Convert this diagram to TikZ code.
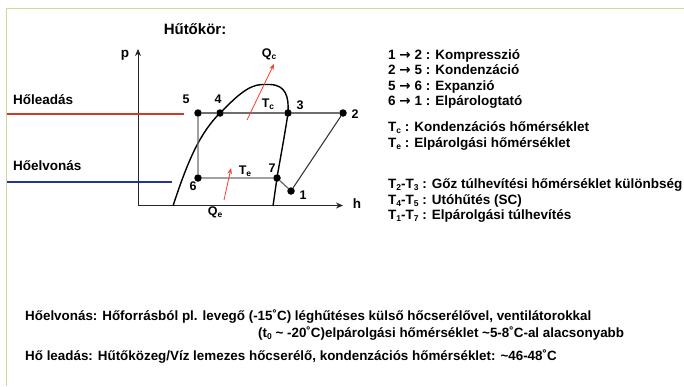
\documentclass[tikz,border=0pt]{standalone}
\usepackage{fontspec}
\setmainfont{Liberation Sans}
\newfontfamily\arrowfont{DejaVu Sans}
\usetikzlibrary{arrows.meta}
\definecolor{framegreen}{RGB}{200,222,150}
\definecolor{hotred}{RGB}{200,60,40}
\definecolor{coldblue}{RGB}{40,50,150}
\definecolor{qred}{RGB}{255,60,40}
\definecolor{cyclegray}{RGB}{110,110,110}
\newcommand{\rarr}{{\arrowfont\char"2192}}
\newcommand{\lowsub}[1]{\raisebox{-0.3ex}{\fontsize{8.5}{9}\selectfont #1}}
\begin{document}
\begin{tikzpicture}[x=1pt,y=-1pt,
  lbl/.style={inner sep=0pt,font=\bfseries\fontsize{12.5}{14}\selectfont},
  txt/.style={inner sep=0pt,anchor=base west,font=\bfseries\fontsize{13.5}{15}\selectfont},
  bot/.style={inner sep=0pt,anchor=base west,font=\bfseries\fontsize{13.4}{15}\selectfont},
  dot/.style={circle,fill=black,inner sep=0pt,minimum size=7.5pt},
  axis/.style={draw=black!85,line width=0.9pt,-{Stealth[length=7pt,width=6pt]}},
  cyc/.style={draw=cyclegray,line width=1.3pt},
  qarrow/.style={draw=qred,line width=0.8pt,-{Stealth[length=6pt,width=4.5pt]}}]
\useasboundingbox (0,0) rectangle (684,386);
\draw[framegreen,line width=1.5pt] (6.5,386) -- (6.5,8.5) -- (684,8.5);
% title
\node[inner sep=0pt,anchor=base,font=\bfseries\fontsize{15}{17}\selectfont] (title) at (195,34.5) {Hűtőkör:};
% axes
\coordinate (origin) at (138,205.5);
\coordinate (ptop) at (138,49);
\coordinate (hend) at (343,205.5);
\draw[axis] (origin) -- (ptop);
\draw[axis] (origin) -- (hend);
\node[txt,anchor=base] (plab) at (125,57) {p};
\node[txt,anchor=base] (hlab) at (357,208) {h};
% heat lines
\node[txt] (hol) at (13,104) {Hőleadás};
\node[txt] (hoe) at (13,170) {Hőelvonás};
\coordinate (rs) at (7,114);
\coordinate (re) at (184,114);
\coordinate (bs) at (7,182);
\coordinate (be) at (172,182);
\draw[hotred,line width=2pt] (rs) -- (re);
\draw[coldblue,line width=2pt] (bs) -- (be);
% dome
\draw[black,line width=1.4pt] (173,206) .. controls (188,160) and (200,133) .. (220,113)
  .. controls (236,97) and (248,85) .. (262,84.5) -- (270,84.5)
  .. controls (286,85) and (289,97) .. (288,113)
  .. controls (284,140) and (279,165) .. (277,178) -- (273,206);
% cycle points
\node[dot] (p5) at (198,113) {};
\node[dot] (p4) at (220,113) {};
\node[dot] (p3) at (288,113) {};
\node[dot] (p2) at (343,113) {};
\node[dot] (p6) at (198,178) {};
\node[dot] (p7) at (277,178) {};
\node[dot] (p1) at (291,191) {};
\draw[cyc] (p5) -- (p4) -- (p3) -- (p2);
\draw[cyc] (p5) -- (p6) -- (p7) -- (p1);
\draw[black!80,line width=1pt] (p1) -- (p2);
% point labels
\node[lbl] (l5) at (186,99) {5};
\node[lbl] (l4) at (218,99) {4};
\node[lbl] (l3) at (300,105.5) {3};
\node[lbl] (l2) at (355,114) {2};
\node[lbl] (l6) at (193,186) {6};
\node[lbl] (l7) at (272,168) {7};
\node[lbl] (l1) at (303,195) {1};
\node[lbl] (tc) at (268,104) {T\lowsub{c}};
\node[lbl] (te) at (245,171) {T\lowsub{e}};
\node[lbl] (qc) at (269,54) {Q\lowsub{c}};
\node[lbl] (qe) at (215,212) {Q\lowsub{e}};
% heat arrows
\coordinate (qcs) at (247,120);
\coordinate (qce) at (274,64);
\coordinate (qes) at (224,200);
\coordinate (qee) at (231,168);
\draw[qarrow] (qcs) -- (qce);
\draw[qarrow] (qes) -- (qee);
% legend
\node[txt] (t1) at (388,59) {1 \rarr{} 2 : Kompresszió};
\node[txt] (t2) at (388,74.3) {2 \rarr{} 5 : Kondenzáció};
\node[txt] (t3) at (388,90) {5 \rarr{} 6 : Expanzió};
\node[txt] (t4) at (388,105) {6 \rarr{} 1 : Elpárologtató};
\node[txt] (t5) at (388,131) {T\lowsub{c} : Kondenzációs hőmérséklet};
\node[txt] (t6) at (388,147) {T\lowsub{e} : Elpárolgási hőmérséklet};
\node[txt] (t7) at (388,188) {T\lowsub{2}-T\lowsub{3} : Gőz túlhevítési hőmérséklet különbség};
\node[txt] (t8) at (388,204) {T\lowsub{4}-T\lowsub{5} : Utóhűtés (SC)};
\node[txt] (t9) at (388,219) {T\lowsub{1}-T\lowsub{7} : Elpárolgási túlhevítés};
% bottom text
\node[bot] (b1) at (25,320) {Hőelvonás: Hőforrásból pl. levegő (-15˚C) léghűtéses külső hőcserélővel, ventilátorokkal};
\node[bot] (b2) at (258,337) {(t\lowsub{0} \char"7E{} -20˚C)elpárolgási hőmérséklet \char"7E 5-8˚C-al alacsonyabb};
\node[bot] (b3) at (25,360) {Hő leadás: Hűtőközeg/Víz lemezes hőcserélő, kondenzációs hőmérséklet: \char"7E 46-48˚C};
\end{tikzpicture}
\end{document}
